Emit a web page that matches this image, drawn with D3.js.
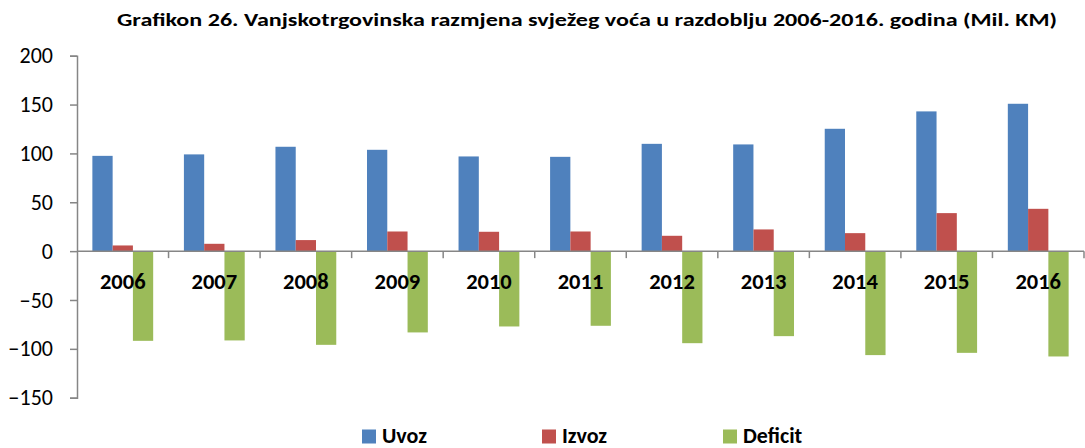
<!DOCTYPE html>
<html>
<head>
<meta charset="utf-8">
<script src="https://cdn.jsdelivr.net/npm/d3@7"></script>
<style>
  body { margin: 0; background: #fff; }
  text { font-family: Carlito, Calibri, "Open Sans", "Liberation Sans", Arial, sans-serif; fill: #000; }
</style>
</head>
<body>
<script>
// Data
var years = ["2006", "2007", "2008", "2009", "2010", "2011", "2012", "2013", "2014", "2015", "2016"];
var uvoz = [97.5, 99, 106.8, 103.7, 96.9, 96.5, 109.8, 109.2, 125.2, 143, 150.8];
var izvoz = [5.8, 7.5, 11.3, 20.1, 19.8, 20.1, 15.7, 22.2, 18.4, 38.9, 43.3];
var deficit = [-91.8, -91.4, -95.9, -83.2, -77.1, -76.4, -94.2, -87, -106.4, -104.1, -107.8];
var seriesNames = ["Uvoz", "Izvoz", "Deficit"];
var seriesColors = ["#4F81BD", "#C0504D", "#9BBB59"];
var yTicks = [200, 150, 100, 50, 0, -50, -100, -150];

//Settings
var width = 1085;
var height = 448;
var plotLeft = 77;
var plotRight = 1084;
var plotTop = 55.7;
var plotBottom = 397.7;
var fontFamily = "Carlito, Calibri, 'Open Sans', 'Liberation Sans', Arial, sans-serif";

var svg = d3.select("body").append("svg").attr("width", width).attr("height", height);

//Scales
var x0 = d3.scaleBand().domain(years).range([plotLeft, plotRight]).padding(0);
var x1 = d3.scaleBand().domain(seriesNames).range([0, x0.bandwidth()]).paddingInner(0).paddingOuter(0.758);
var y = d3.scaleLinear().domain([-150, 200]).range([plotBottom, plotTop]);

//Title
svg.append("text").attr("x", 587).attr("y", 26).attr("text-anchor", "middle")
  .attr("font-weight", "bold").attr("font-size", 17.5)
  .attr("textLength", 940).attr("lengthAdjust", "spacingAndGlyphs")
  .text("Grafikon 26. Vanjskotrgovinska razmjena svježeg voća u razdoblju 2006-2016. godina (Mil. KM)");

//Bars
var data = [uvoz, izvoz, deficit];
data.forEach(function(values, s)
{
  svg.append("g").selectAll("rect").data(values).enter().append("rect")
    .attr("x", function(d, i) { return x0(years[i]) + x1(seriesNames[s]); })
    .attr("y", function(d) { return y(Math.max(0, d)); })
    .attr("width", x1.bandwidth())
    .attr("height", function(d) { return Math.abs(y(d) - y(0)); })
    .attr("fill", seriesColors[s]);
});

//Y axis
var yAxis = svg.append("g").attr("transform", "translate(" + plotLeft + ",0)")
  .call(d3.axisLeft(y).tickValues(yTicks).tickSize(7).tickPadding(17));
yAxis.select(".domain").attr("stroke", "#868686").attr("stroke-width", 1.5);
yAxis.selectAll(".tick line").attr("stroke", "#868686").attr("stroke-width", 1.5);
yAxis.selectAll(".tick text").attr("font-size", 22).attr("font-family", fontFamily).attr("fill", "#000");

//X axis line at zero with boundary ticks
var xAxis = svg.append("g");
xAxis.append("line").attr("x1", plotLeft).attr("x2", plotRight).attr("y1", y(0)).attr("y2", y(0))
  .attr("stroke", "#868686").attr("stroke-width", 1.5);
years.forEach(function(yr, i)
{
  if(i == 0) return;
  xAxis.append("line").attr("x1", x0(yr)).attr("x2", x0(yr)).attr("y1", y(0)).attr("y2", y(0) + 7)
    .attr("stroke", "#868686").attr("stroke-width", 1.5);
});
xAxis.append("line").attr("x1", plotRight).attr("x2", plotRight).attr("y1", y(0)).attr("y2", y(0) + 7)
  .attr("stroke", "#868686").attr("stroke-width", 1.5);
xAxis.selectAll("text.cat").data(years).enter().append("text").attr("class", "cat")
  .attr("x", function(d) { return x0(d) + x0.bandwidth() / 2; })
  .attr("y", 289).attr("text-anchor", "middle")
  .attr("font-weight", "bold").attr("font-size", 22.5)
  .text(function(d) { return d; });

//Legend
var legendX = [362, 542, 723];
seriesNames.forEach(function(name, i)
{
  svg.append("rect").attr("x", legendX[i]).attr("y", 429.5).attr("width", 14).attr("height", 14).attr("fill", seriesColors[i]);
  svg.append("text").attr("x", legendX[i] + 20).attr("y", 443).attr("font-weight", "bold").attr("font-size", 22).text(name);
});
</script>
</body>
</html>
